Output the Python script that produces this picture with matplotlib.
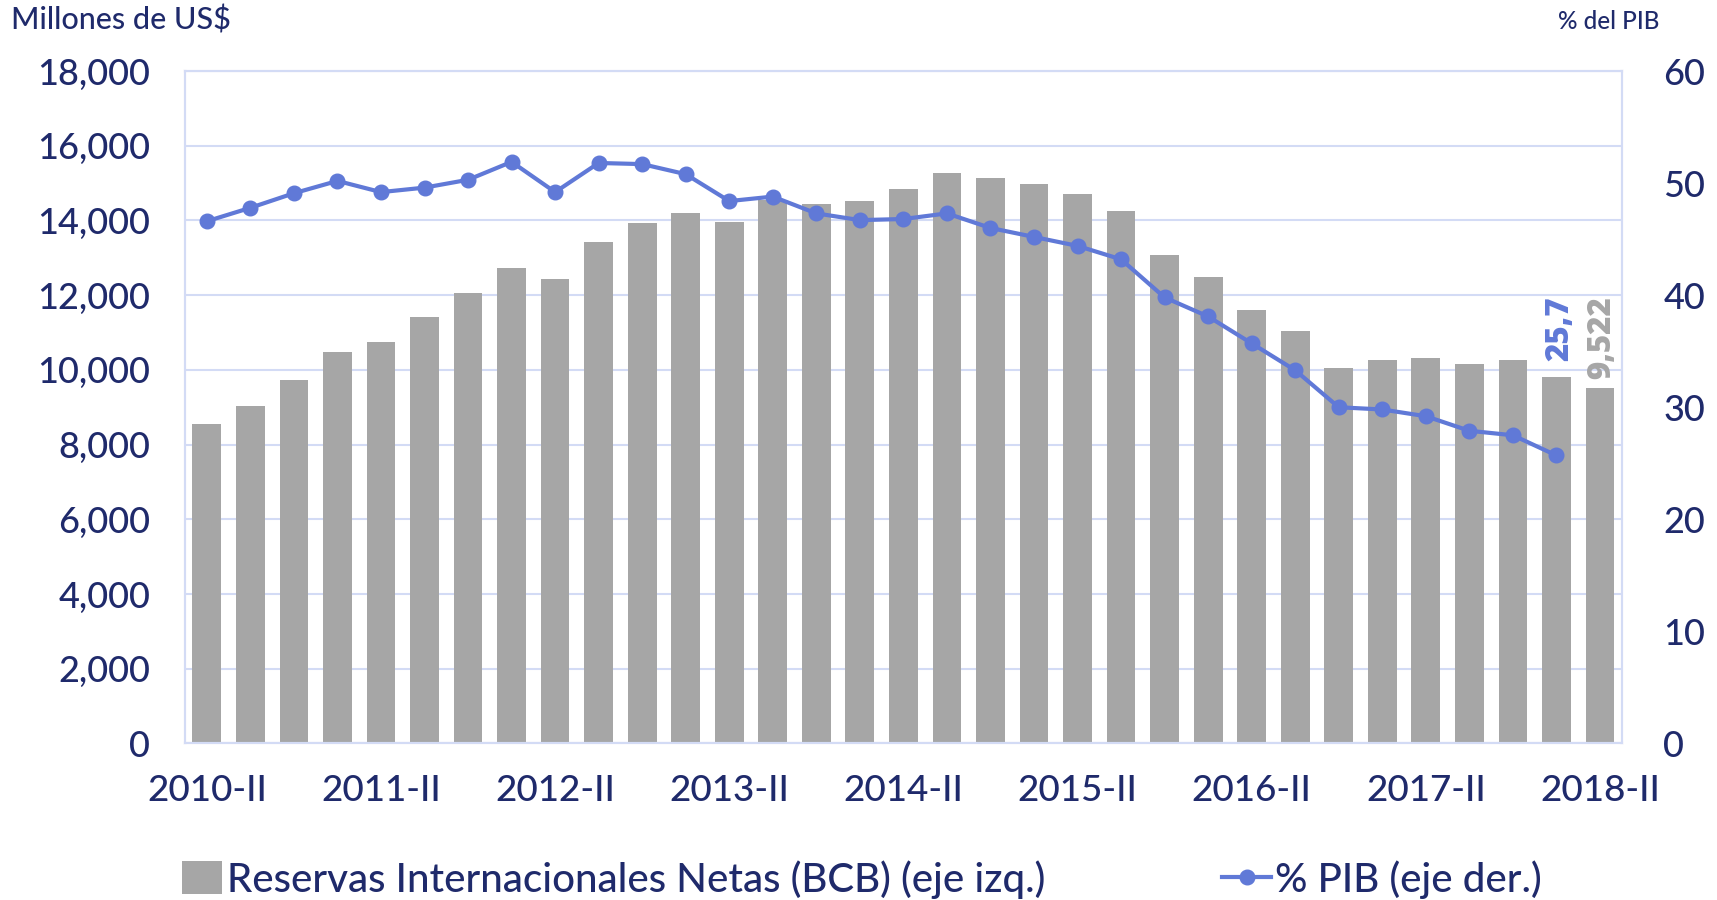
import matplotlib
matplotlib.use("Agg")
import matplotlib.pyplot as plt
from matplotlib.lines import Line2D
from matplotlib.patches import Patch
from matplotlib.ticker import FuncFormatter
import numpy as np

plt.rcParams['font.family'] = ['Lato', 'DejaVu Sans']
plt.rcParams['font.weight'] = 'medium'

quarters = []
for y in range(2010, 2019):
    for q in ["I", "II", "III", "IV"]:
        quarters.append(f"{y}-{q}")
quarters = quarters[1:34]  # 2010-II .. 2018-II

reservas = [8561, 9031, 9734, 10467, 10760, 11405, 12051, 12725, 12431, 13428,
            13927, 14191, 13956, 14543, 14455, 14513, 14836, 15276, 15129, 14983,
            14719, 14250, 13077, 12490, 11611, 11054, 10057, 10262, 10321, 10145,
            10262, 9822, 9522]
pct_pib = [46.6, 47.8, 49.1, 50.2, 49.2, 49.6, 50.3, 51.9, 49.2, 51.8,
           51.7, 50.8, 48.4, 48.8, 47.3, 46.7, 46.8, 47.3, 46.0, 45.2,
           44.4, 43.2, 39.8, 38.1, 35.7, 33.3, 30.0, 29.8, 29.2, 27.9,
           27.5, 25.7]
tick_labels = ["2010-II", "2011-II", "2012-II", "2013-II", "2014-II",
               "2015-II", "2016-II", "2017-II", "2018-II"]

NAVY = "#1F2A6B"
BAR = "#A6A6A6"
BLUE = "#6079D7"
GRID = "#D3DBF5"

fig = plt.figure(figsize=(17.17, 9.0), dpi=100)
ax = fig.add_axes([0.1078, 0.174, 0.9445 - 0.1078, 0.921 - 0.174])
x = np.arange(len(reservas))
ax.bar(x, reservas, width=0.66, color=BAR, zorder=2)
ax.set_ylim(0, 18000)
ax.set_xlim(-0.5, len(reservas) - 0.5)
ax.set_yticks(np.arange(0, 18001, 2000))
ax.yaxis.set_major_formatter(FuncFormatter(lambda v, p: f"{int(v):,}"))
ax.grid(axis='y', color=GRID, linewidth=1.5, zorder=0)
ax.set_axisbelow(True)
ax.set_xticks(x[::4])
ax.set_xticklabels(tick_labels)
ax.tick_params(axis='both', length=0, labelcolor=NAVY)
ax.tick_params(axis='y', pad=25, labelsize=26)
ax.tick_params(axis='x', pad=22, labelsize=26.5)
for s in ax.spines.values():
    s.set_color(GRID)
    s.set_linewidth(1.5)

ax2 = ax.twinx()
ax2.plot(x[:len(pct_pib)], pct_pib, color=BLUE, linewidth=3, marker='o',
         markersize=10.5, zorder=3)
ax2.set_ylim(0, 60)
ax2.set_yticks(np.arange(0, 61, 10))
ax2.tick_params(axis='y', length=0, labelsize=26, labelcolor=NAVY, pad=30)
for s in ax2.spines.values():
    s.set_color(GRID)
    s.set_linewidth(1.5)

# data labels
li = len(pct_pib) - 1
ax2.annotate(f"{pct_pib[li]:.1f}".replace(".", ","), xy=(x[li], pct_pib[li]),
             xytext=(3, 68), textcoords='offset points', rotation=90,
             ha='center', va='bottom', color=BLUE, fontsize=22.5,
             fontweight='heavy', family=['Open Sans', 'DejaVu Sans'])
bi = len(reservas) - 1
ax.annotate(f"{reservas[bi]:,}", xy=(x[bi], reservas[bi]),
            xytext=(2, 6), textcoords='offset points', rotation=90,
            ha='center', va='bottom', color=BAR, fontsize=22.5,
            fontweight='heavy', family=['Open Sans', 'DejaVu Sans'])

fig.text(10 / 1568, 1 - 18 / 822, "Millones de US$", color=NAVY, fontsize=22,
         ha='left', va='center')
fig.text(1515 / 1568, 1 - 20 / 822, "% del PIB", color=NAVY, fontsize=17.5,
         ha='right', va='center')

h1 = Patch(facecolor=BAR, edgecolor='none')
h2 = Line2D([], [], color=BLUE, linewidth=3, marker='o', markersize=10.5)
leg1 = fig.legend([h1], ["Reservas Internacionales Netas (BCB) (eje izq.)"],
                  loc='center left', bbox_to_anchor=(148 / 1568, 1 - 803 / 822),
                  frameon=False, fontsize=29, handlelength=1.0, handleheight=0.9,
                  handletextpad=0.12, labelcolor=NAVY, borderpad=0)
leg2 = fig.legend([h2], ["% PIB (eje der.)"],
                  loc='center left', bbox_to_anchor=(1098 / 1568, 1 - 803 / 822),
                  frameon=False, fontsize=29, handlelength=1.2,
                  handletextpad=0.1, labelcolor=NAVY, borderpad=0)

fig.savefig("out.png", dpi=100)
